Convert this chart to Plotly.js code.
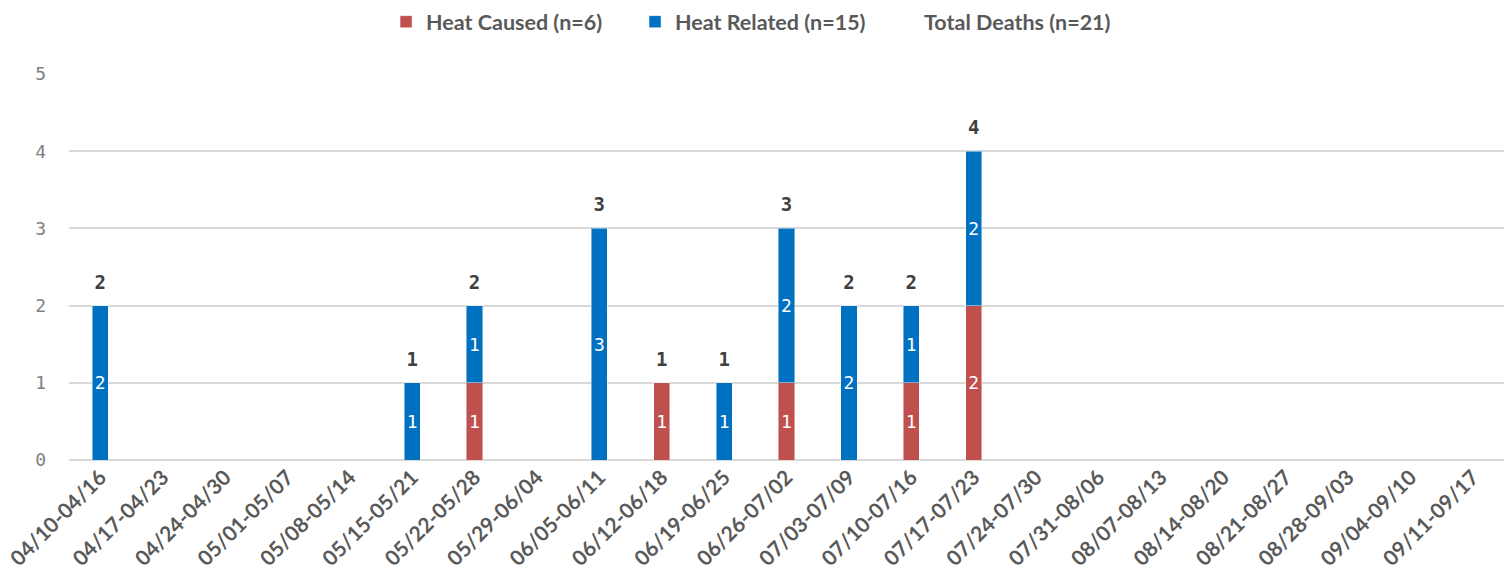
<!DOCTYPE html>
<html>
<head>
<meta charset="utf-8">
<script src="https://cdn.plot.ly/plotly-3.0.1.min.js"></script>
<style>html,body{margin:0;padding:0;background:#fff;}#chart{width:1511px;height:580px;}</style>
</head>
<body>
<div id="chart"></div>
<script>
const weeks = ["04/10-04/16","04/17-04/23","04/24-04/30","05/01-05/07","05/08-05/14","05/15-05/21","05/22-05/28","05/29-06/04","06/05-06/11","06/12-06/18","06/19-06/25","06/26-07/02","07/03-07/09","07/10-07/16","07/17-07/23","07/24-07/30","07/31-08/06","08/07-08/13","08/14-08/20","08/21-08/27","08/28-09/03","09/04-09/10","09/11-09/17"];
const heatCaused  = [0,0,0,0,0,0,1,0,0,1,0,1,0,1,2,0,0,0,0,0,0,0,0];
const heatRelated = [2,0,0,0,0,1,1,0,3,0,1,2,2,1,2,0,0,0,0,0,0,0,0];
const seriesNames = ["Heat Caused (n=6)","Heat Related (n=15)","Total Deaths (n=21)"];
const yTicks = [0,1,2,3,4,5];

const totals = heatCaused.map((v,i)=>v+heatRelated[i]);
const lbl = a => a.map(v => v>0 ? String(v) : "");
const numFont = "DejaVu Sans Mono, monospace";
const textFont = "Lato, Open Sans, sans-serif";
const RED = "#C0504D", BLUE = "#0070C0";

const barCommon = {
  type: "bar", x: weeks, width: 0.26,
  textposition: "inside", insidetextanchor: "middle", textangle: 0,
  constraintext: "none",
  textfont: {family: numFont, size: 18, color: "#ffffff"},
  hoverinfo: "x+y"
};

const traces = [
  Object.assign({}, barCommon, {
    name: seriesNames[0], y: heatCaused, text: lbl(heatCaused),
    marker: {color: RED, line: {color: "rgba(255,255,255,0.45)", width: 1}}
  }),
  Object.assign({}, barCommon, {
    name: seriesNames[1], y: heatRelated, text: lbl(heatRelated),
    marker: {color: BLUE, line: {color: "rgba(255,255,255,0.45)", width: 1}}
  }),
  {
    type: "bar", name: seriesNames[2], x: weeks, y: weeks.map(()=>null),
    marker: {color: "rgba(0,0,0,0)"}, hoverinfo: "skip"
  },
  {
    type: "scatter", mode: "markers+text", x: weeks,
    y: totals.map(v => v>0 ? v : null),
    marker: {size: 18, opacity: 0},
    text: lbl(totals), textposition: "top center",
    textfont: {family: numFont, size: 19, color: "#404040", weight: "bold"},
    showlegend: false, hoverinfo: "skip", cliponaxis: false
  }
];

const layout = {
  width: 1511, height: 580,
  margin: {l: 69, r: 7, t: 74, b: 120, autoexpand: false},
  barmode: "stack",
  paper_bgcolor: "#ffffff", plot_bgcolor: "#ffffff",
  showlegend: true,
  legend: {
    orientation: "h", xref: "container", yref: "container",
    x: 0.2555, xanchor: "left", y: 0.998, yanchor: "top",
    entrywidth: 204, entrywidthmode: "pixels",
    font: {family: textFont, size: 21.5, color: "#595959", weight: "bold"},
    traceorder: "normal", itemclick: false
  },
  xaxis: {
    type: "category", range: [-0.5, 22.5], autorange: false,
    tickangle: -45, showgrid: false, showline: false, zeroline: false,
    ticks: "", automargin: false,
    tickfont: {family: textFont, size: 21, color: "#595959", weight: "bold"},
    fixedrange: true
  },
  yaxis: {
    range: [0, 5], autorange: false, tickvals: yTicks, ticktext: yTicks.map(String),
    showgrid: true, gridcolor: "#d9d9d9", gridwidth: 2,
    zeroline: true, zerolinecolor: "#d9d9d9", zerolinewidth: 2,
    showline: false, ticks: "", ticklabelstandoff: 22, automargin: false,
    tickfont: {family: numFont, size: 18, color: "#808080"},
    fixedrange: true
  }
};

Plotly.newPlot("chart", traces, layout, {displayModeBar: false, staticPlot: true});
</script>
</body>
</html>
